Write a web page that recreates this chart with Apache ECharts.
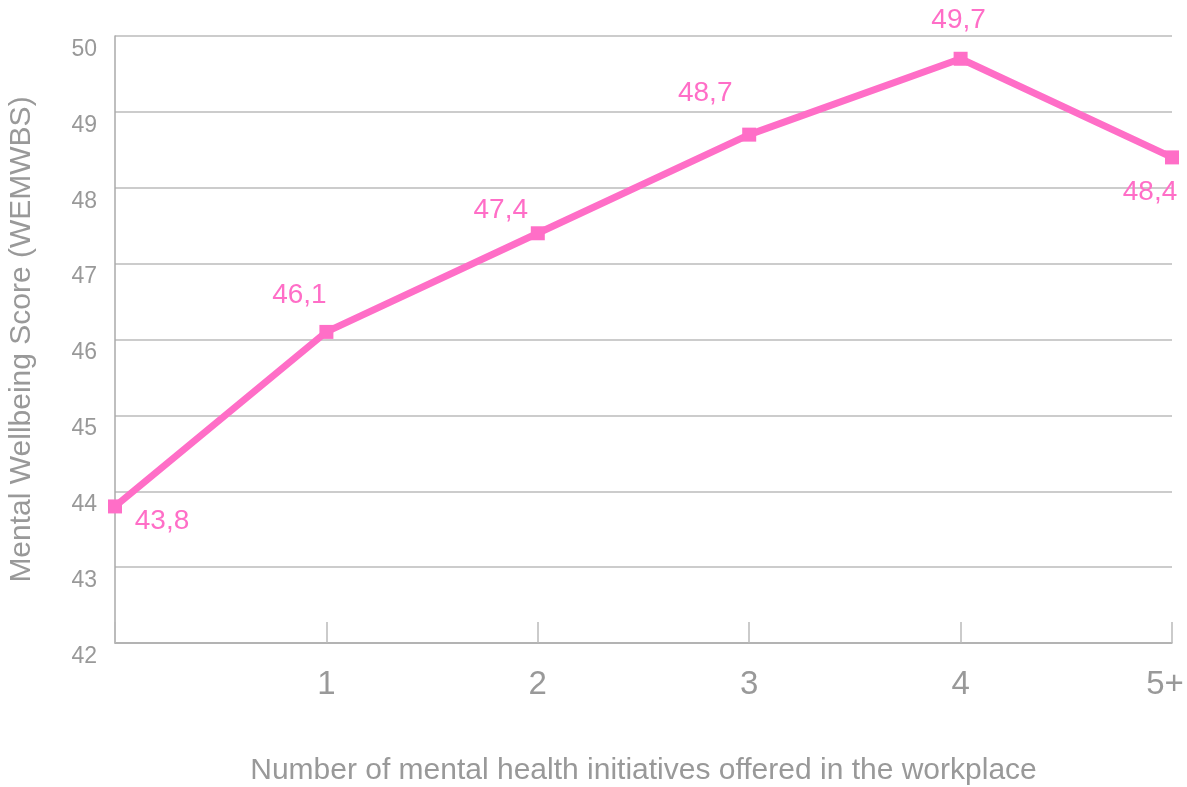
<!DOCTYPE html>
<html>
<head>
<meta charset="utf-8">
<script src="https://cdn.jsdelivr.net/npm/echarts@6/dist/echarts.min.js"></script>
<style>
html,body{margin:0;padding:0;background:#fff;}
#chart{width:1187px;height:787px;}
</style>
</head>
<body>
<div id="chart"></div>
<script>
const categories = ['0', '1', '2', '3', '4', '5+'];
const categoryLabels = ['', '1', '2', '3', '4', '5+'];
const scores = [43.8, 46.1, 47.4, 48.7, 49.7, 48.4];
const labelOffsets = [[47, 15], [-27, -37], [-37, -23], [-44, -41], [-2, -38], [-22, 35]];

const pink = '#FF6EC7';
const grey = '#999999';
const font = 'Liberation Sans, Arial, Helvetica, sans-serif';

const chart = echarts.init(document.getElementById('chart'));
chart.setOption({
  animation: false,
  backgroundColor: '#ffffff',
  grid: { left: 115, right: 15, top: 36, bottom: 144, containLabel: false, outerBoundsMode: 'none' },
  xAxis: {
    type: 'category',
    data: categories,
    boundaryGap: false,
    name: 'Number of mental health initiatives offered in the workplace',
    nameLocation: 'middle',
    nameGap: 113,
    nameMoveOverlap: false,
    nameTextStyle: { color: grey, fontSize: 30, fontFamily: font },
    axisLine: { show: true, lineStyle: { color: '#aaaaaa', width: 1.5 } },
    axisTick: { show: true, inside: true, length: 21, alignWithLabel: true, lineStyle: { color: '#bbbbbb', width: 1.5 } },
    axisLabel: {
      color: grey, fontSize: 33, fontFamily: font, margin: 25,
      hideOverlap: false,
      formatter: (v, i) => i === categoryLabels.length - 1 ? '{last|' + categoryLabels[i] + '}' : categoryLabels[i],
      rich: {
        last: { color: grey, fontSize: 33, fontFamily: font, padding: [0, 14, 0, 0] }
      }
    },
    splitLine: { show: false }
  },
  yAxis: {
    type: 'value',
    min: 42, max: 50, interval: 1,
    name: 'Mental Wellbeing Score (WEMWBS)',
    nameLocation: 'middle',
    nameGap: 78,
    nameRotate: 90,
    nameMoveOverlap: false,
    nameTextStyle: { color: grey, fontSize: 30, fontFamily: font },
    axisLine: { show: true, lineStyle: { color: '#aaaaaa', width: 1.5 } },
    axisTick: { show: false },
    axisLabel: { color: grey, fontSize: 23, fontFamily: font, margin: 18, verticalAlign: 'top', padding: [2, 0, 0, 0] },
    splitLine: { show: true, lineStyle: { color: '#bbbbbb', width: 1.5 } }
  },
  series: [{
    type: 'line',
    data: scores.map((v, i) => ({
      value: v,
      label: { offset: labelOffsets[i] }
    })),
    symbol: 'rect',
    symbolSize: 14,
    lineStyle: { color: pink, width: 7 },
    itemStyle: { color: pink },
    label: {
      show: true,
      position: 'inside',
      color: pink,
      fontSize: 28,
      fontFamily: font,
      formatter: p => String(p.value).replace('.', ',')
    }
  }]
});
</script>
</body>
</html>
